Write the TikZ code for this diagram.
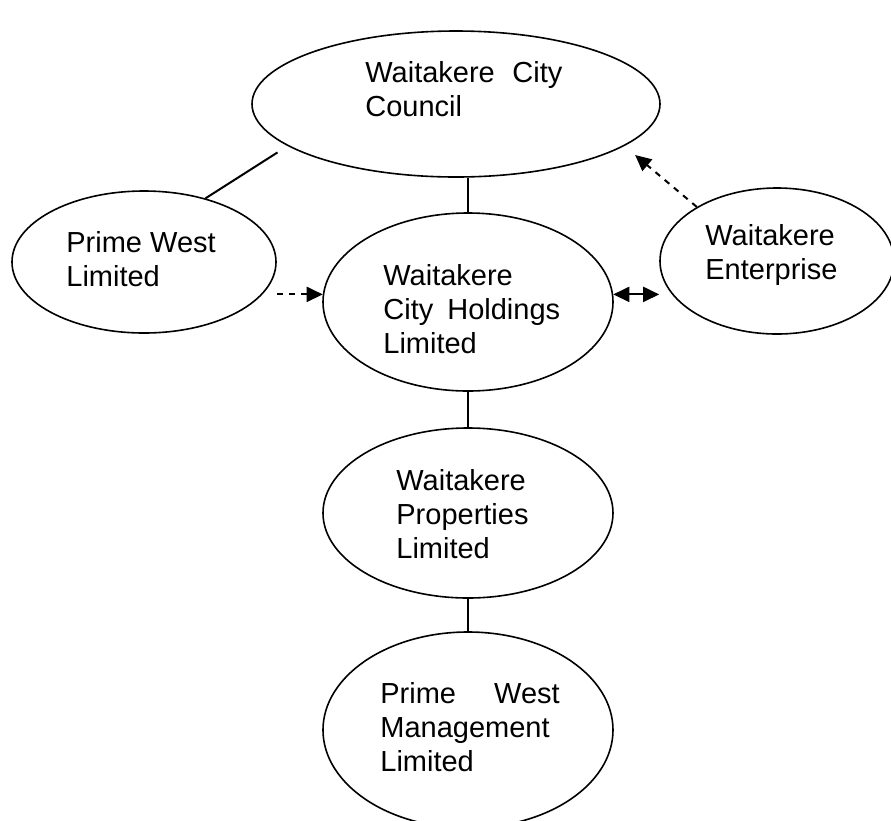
\documentclass[tikz,border=0pt]{standalone}
\usepackage{fontspec}
\setmainfont{Liberation Sans}
\usetikzlibrary{shapes.geometric,arrows.meta}
\usetikzlibrary{positioning}

\begin{document}
\begin{tikzpicture}[x=0.5pt,y=-0.5pt,
  org/.style={draw,ellipse,thick,inner sep=0pt},
  txt/.style={anchor=north west,inner sep=0pt,align=left,font=\fontsize{14.5}{17}\selectfont},
  link/.style={line width=1pt},
  tip/.style={-{Triangle[length=8pt,width=7.5pt]}}]
\useasboundingbox (0,0) rectangle (891,821);
\node[org,minimum width=204pt,minimum height=73pt] (wcc) at (456,104) {};
\node[org,minimum width=132pt,minimum height=71pt] (pwl) at (144,262) {};
\node[org,minimum width=145pt,minimum height=89pt] (wcch) at (468,302) {};
\node[org,minimum width=117pt,minimum height=73pt] (we) at (777,261) {};
\node[org,minimum width=145pt,minimum height=85pt] (wp) at (468,513) {};
\node[org,minimum width=145pt,minimum height=98pt] (pwm) at (468,730) {};
\node[txt] (wcc text) at (365,61) {Waitakere\hspace{4.75pt} City\\Council};
\node[txt] (pwl text) at (66,231) {Prime West\\Limited};
\node[txt] (wcch text) at (383,264) {Waitakere\\City\hspace{3pt} Holdings\\Limited};
\node[txt] (we text) at (705,224) {Waitakere\\Enterprise};
\node[txt] (wp text) at (396,469) {Waitakere\\Properties\\Limited};
\node[txt] (pwm text) at (380,682) {Prime\hspace{15pt} West\\Management\\Limited};
\draw[link, shorten <=6pt] (wcc.194) -- (pwl.46);
\draw[link] (wcch.north) -- (wcch.north |- wcc.south);
\draw[link, dashed, tip] (pwl.east |- wcch.177) -- (wcch.177);
\draw[link, {Triangle[length=8pt,width=7.5pt]}-{Triangle[length=8pt,width=7.5pt]}] (wcch.3) -- (wcch.3 -| we.west);
\draw[link, dashed, tip, shorten >=7pt] (we.146) -- (wcc.346);
\draw[link] (wcch.south) -- (wp.north);
\draw[link] (wp.south) -- (pwm.north);
\end{tikzpicture}
\end{document}
